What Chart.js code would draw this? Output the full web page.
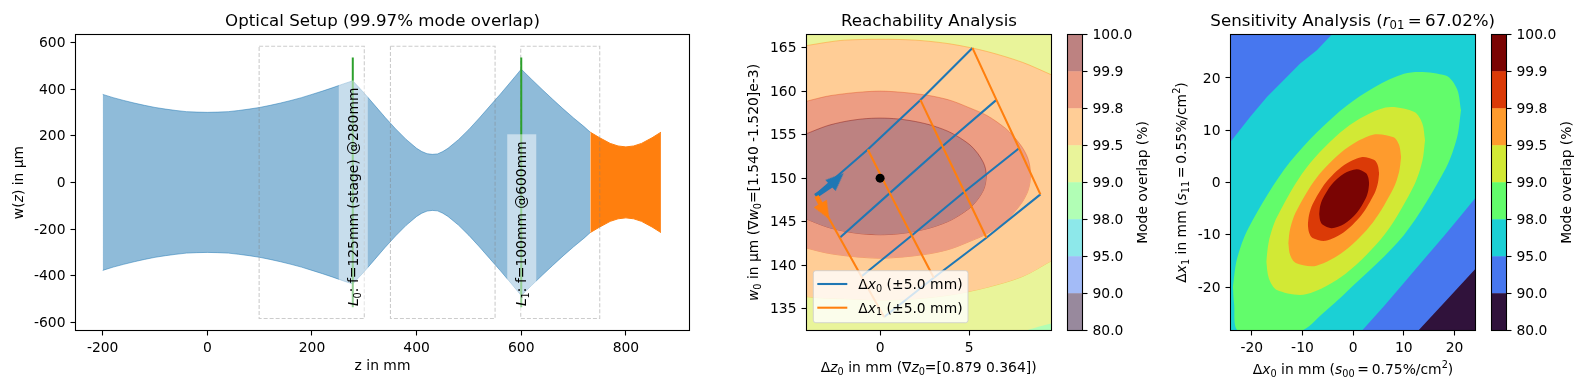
<!DOCTYPE html>
<html><head><meta charset="utf-8">
<style>html,body{margin:0;padding:0;background:#fff;width:1584px;height:390px;overflow:hidden}canvas{position:absolute;top:0}</style>
<script src="https://cdn.jsdelivr.net/npm/chart.js@4/dist/chart.umd.js"></script>
</head><body>
<canvas id="c1" width="700" height="390" style="left:0"></canvas>
<canvas id="c2" width="330" height="390" style="left:730px"></canvas>
<canvas id="c2b" width="100" height="390" style="left:1060px"></canvas>
<canvas id="c3" width="350" height="390" style="left:1150px"></canvas>
<canvas id="c3b" width="100" height="390" style="left:1484px"></canvas>
<script>
// ---------- data: optical setup ----------
const beamZ=[-200,-180,-160,-140,-120,-100,-80,-60,-40,-20,0,20,40,60,80,100,120,140,160,180,200,220,240,260,278,300,320,340,360,380,400,410,420,430,440,450,460,480,500,520,540,560,580,600,620,640,660,680,700,720,732];
const beamW=[377,363,351,340,330,321,314,308,303,301,300,301,303,308,314,321,330,340,351,363,377,391,406,422,435,382,330,278,229,184,146,132,123,120,122,132,146,183,227,276,327,378,431,485,441,398,356,315,276,239,215];
const targetZ=[732,750,770,785,800,815,830,850,867];
const targetW=[215,191,167,156,152,156,167,191,215];
const stageBoxes=[[99,300],[350,550],[599,750]];
const stageHalfHeight=583;
const lensZ=[278,600];
const lensHalfHeight=535;
const lensLabelStartW=-530;
const setupXTicks=[-200,0,200,400,600,800];
const setupYTicks=[-600,-400,-200,0,200,400,600];
const setupXLabels=['-200','0','200','400','600','800'];
const setupYLabels=['-600','-400','-200','0','200','400','600'];
// ---------- data: reachability ----------
const levelColors=['#30123b','#4777ef','#1bd0d5','#62fc6b','#d2e935','#fe9b2d','#db3a07','#7a0403'];
const cbLabels=['80.0','90.0','95.0','98.0','99.0','99.5','99.8','99.9','100.0'];
const r990=[[8.2,132.5],[9.0,133.0],[9.7,133.35]];
const r995Up=[[-4.2,165.2],[-3,165.6],[-2,165.85],[0,165.95],[2,165.85],[4,165.4],[6,164.55],[8,163.3],[9.7,161.8]];
const r995Lo=[[-4.2,136.4],[-3,136.2],[-2,136.15],[0,136],[2,136.15],[4,136.6],[6,137.45],[8,138.7],[9.7,140.6]];
const r998Up=[[-4.2,158.8],[-3,159.4],[-2,159.7],[-1,159.9],[0,160],[1,159.9],[2,159.7],[3,159.4],[4,158.9],[5,158.1],[6,157.2],[7,155.8],[7.5,154.8],[8,153.5],[8.3,152.3],[8.42,151.3],[8.46,150.4]];
const r998Lo=[[-4.2,142],[-3,141.4],[-2,141.1],[-1,140.9],[0,140.8],[1,140.9],[2,141.1],[3,141.4],[4,141.9],[5,142.7],[6,143.6],[7,145],[7.5,146],[8,147.3],[8.3,148.5],[8.42,149.5],[8.46,150.4]];
const r999Up=[[-4.2,155.05],[-3,156],[-2,156.5],[-1,156.8],[0,156.9],[1,156.8],[2,156.5],[3,156],[4,155.2],[5,153.9],[5.5,152.8],[5.8,151.8],[5.92,151.1],[5.97,150.3]];
const r999Lo=[[-4.2,145.35],[-3,144.4],[-2,143.9],[-1,143.6],[0,143.5],[1,143.6],[2,143.9],[3,144.4],[4,145.2],[5,146.5],[5.5,147.6],[5.8,148.6],[5.92,149.4],[5.97,150.3]];
const gridRows=[
 [[-3.614,148.09],[-2.266,143.15],[-1.049,138.71],[0.225,134.05]],
 [[-0.693,153.29],[0.543,148.28],[1.779,143.42],[3.015,138.56]],
 [[2.266,158.99],[3.502,153.67],[4.738,148.43],[5.974,143.15]],
 [[5.187,164.96],[6.536,158.99],[7.809,153.44],[9.007,148.13]]];
const nominal=[[0,150]];
const arrowShaft0=[[-3.63,147.95],[-2.73,149.17]];
const arrowHead0=[[-2.42,149.86]];
const arrowShaft1=[[-3.573,147.93],[-3.348,147.04]];
const arrowHead1=[[-3.107,146.18]];
const reachXTicks=[0,5], reachXLabels=['0','5'];
const reachYTicks=[135,140,145,150,155,160,165], reachYLabels=['135','140','145','150','155','160','165'];
// ---------- data: sensitivity ----------
const s950TL=[[-24.18,7.77],[-20.3,12.55],[-17.02,16.37],[-13.73,19.55],[-10.45,22.74],[-7.16,25.29],[-4.2,28.3]];
const s950BR=[[1.77,-28.3],[5.98,-23.76],[9.92,-19.3],[13.86,-14.84],[17.81,-10.38],[21.09,-6.56],[24.2,-2.87]];
const s900BR=[[12.88,-28.3],[18.46,-22.48],[24.2,-16.43]];
const s990Up=[[-23.72,-19.93],[-22.96,-14.76],[-20.7,-8.78],[-12.47,3.9],[-1.215,14.72],[10.04,20.78],[18.27,20.45],[20.52,17.85],[21.29,13.81]];
const s990Lo=[[-23.72,-19.93],[-23.5,-23.1],[-22.6,-28.4],[-10.45,-28.4],[-6,-25.04],[-1.215,-20.84],[10.04,-10.02],[18.27,2.66],[20.52,8.64],[21.29,13.81]];
const s995Up=[[-17.15,-15.16],[-16.62,-11.17],[-15.05,-6.65],[-9.32,2.7],[-1.48,10.37],[6.36,14.32],[12.09,13.49],[13.66,11.29],[14.19,8.09]];
const s995Lo=[[-17.15,-15.16],[-16.62,-18.36],[-15.05,-20.56],[-9.32,-21.39],[-1.48,-17.44],[6.36,-9.77],[12.09,-0.41],[13.66,4.1],[14.19,8.09]];
const s998Up=[[-12.81,-11.64],[-12.43,-8.86],[-11.32,-5.69],[-7.24,0.88],[-1.67,6.31],[3.9,9.15],[7.98,8.63],[9.09,7.12],[9.47,4.89]];
const s998Lo=[[-12.81,-11.64],[-12.43,-13.87],[-11.32,-15.38],[-7.24,-15.9],[-1.67,-13.05],[3.9,-7.63],[7.98,-1.06],[9.09,2.11],[9.47,4.89]];
const s999Up=[[-8.94,-8.04],[-8.7,-6.22],[-8,-4.18],[-5.42,-0.05],[-1.905,3.25],[1.61,4.83],[4.19,4.28],[4.89,3.22],[5.13,1.72]];
const s999Lo=[[-8.94,-8.04],[-8.7,-9.54],[-8,-10.6],[-5.42,-11.15],[-1.905,-9.57],[1.61,-6.27],[4.19,-2.14],[4.89,-0.1],[5.13,1.72]];
const s100Up=[[-6.71,-6],[-6.54,-4.65],[-6.05,-3.19],[-4.24,-0.36],[-1.775,1.73],[0.69,2.54],[2.5,1.84],[2.99,0.96],[3.16,-0.195]];
const s100Lo=[[-6.71,-6],[-6.54,-7.15],[-6.05,-8.02],[-4.24,-8.73],[-1.775,-7.92],[0.69,-5.83],[2.5,-3],[2.99,-1.54],[3.16,-0.195]];
const sensXTicks=[-20,-10,0,10,20], sensXLabels=['-20','-10','0','10','20'];
const sensYTicks=[-20,-10,0,10,20], sensYLabels=['-20','-10','0','10','20'];
const cbTicks=[0,1,2,3,4,5,6,7,8];
// ---------- texts ----------
const T={o:'Optical Setup (99.97% mode overlap)',r:'Reachability Analysis',z:'z in mm',mo:'Mode overlap (%)'};
const R={
 w:[{t:'w('},{t:'z',i:1},{t:') in µm'}],
 l0:[{t:'L',i:1},{t:'0',sub:1},{t:': f=125mm (stage) @280mm'}],
 l1:[{t:'L',i:1},{t:'1',sub:1},{t:': f=100mm @600mm'}],
 rx:[{t:'Δ'},{t:'z',i:1},{t:'0',sub:1},{t:' in mm (∇'},{t:'z',i:1},{t:'0',sub:1},{t:'=[0.879 0.364])'}],
 ry:[{t:'w',i:1},{t:'0',sub:1},{t:' in µm (∇'},{t:'w',i:1},{t:'0',sub:1},{t:'=[1.540 -1.520]e-3)'}],
 lg0:[{t:'Δ'},{t:'x',i:1},{t:'0',sub:1},{t:' (±5.0 mm)'}],
 lg1:[{t:'Δ'},{t:'x',i:1},{t:'1',sub:1},{t:' (±5.0 mm)'}],
 st:[{t:'Sensitivity Analysis ('},{t:'r',i:1},{t:'01',sub:1},{t:'\u2009=\u200967.02%)'}],
 sx:[{t:'Δ'},{t:'x',i:1},{t:'0',sub:1},{t:' in mm ('},{t:'s',i:1},{t:'00',sub:1},{t:'\u2009=\u20090.75%/cm'},{t:'2',sup:1},{t:')'}],
 sy:[{t:'Δ'},{t:'x',i:1},{t:'1',sub:1},{t:' in mm ('},{t:'s',i:1},{t:'11',sub:1},{t:'\u2009=\u20090.55%/cm'},{t:'2',sup:1},{t:')'}]
};
// ---------- helpers ----------
const FF='"DejaVu Sans"', FS=13.89;
function setFont(ctx,r,size){const s=(r.sub||r.sup)?size*0.7:size;ctx.font=(r.i?'italic ':'')+s+'px '+FF;}
function richW(ctx,runs,size){let w=0;for(const r of runs){setFont(ctx,r,size);w+=ctx.measureText(r.t).width;}return w;}
function rich(ctx,runs,x,y,o){o=o||{};const size=o.size||FS;ctx.save();ctx.translate(x,y);if(o.rot)ctx.rotate(o.rot);
 ctx.fillStyle='#000';ctx.textBaseline='alphabetic';ctx.textAlign='left';
 let w=richW(ctx,runs,size),cx=o.anchor==='s'?0:-w/2,by=o.anchor==='s'?0:size*0.36;
 for(const r of runs){setFont(ctx,r,size);const dy=r.sub?size*0.2:(r.sup?-size*0.42:0);ctx.fillText(r.t,cx,by+dy);cx+=ctx.measureText(r.t).width;}
 ctx.restore();}
function frame(chart){const a=chart.chartArea,c=chart.ctx;c.save();c.strokeStyle='#000';c.lineWidth=1.1;c.strokeRect(a.left,a.top,a.right-a.left,a.bottom-a.top);c.restore();}
const pts=a=>a.map(p=>({x:p[0],y:p[1]}));
const mix=(hex,al)=>{const n=parseInt(hex.slice(1),16),f=v=>Math.round(v*al+255*(1-al));return `rgb(${f(n>>16&255)},${f(n>>8&255)},${f(n&255)})`;};
const line=(data,o)=>Object.assign({type:'line',data,pointRadius:0,borderWidth:0,tension:0,fill:false},o||{});
const band=(up,lo,color,o)=>[line(pts(up),Object.assign({fill:'+1',backgroundColor:color,borderColor:color},o||{})),line(pts(lo),Object.assign({borderColor:color},o||{}))];
const flat=groups=>groups.slice().reverse().flat();
function axis(o){const vert=o.pos==='left'||o.pos==='right';return {type:'linear',min:o.min,max:o.max,position:o.pos,
 afterBuildTicks:s=>{s.ticks=o.ticks.map(v=>({value:v}));},
 afterFit:s=>{if(vert)s.width=o.size;else s.height=o.size;},
 border:{display:false},
 grid:{display:true,drawOnChartArea:false,drawTicks:true,tickLength:5,tickWidth:1.1,tickColor:'#000'},
 ticks:{autoSkip:false,maxRotation:0,minRotation:0,padding:5,labelOffset:vert?1:0,color:'#000',font:{family:'DejaVu Sans',size:FS},callback:(v,i)=>o.labels[i]},
 title:o.title||{display:false}};}
function baseOpts(x,y,pad,titleText){return {responsive:false,animation:false,devicePixelRatio:1,
 layout:{padding:pad},
 elements:{line:{capBezierPoints:false}},
 scales:{x,y},
 plugins:{legend:{display:false},tooltip:{enabled:false},
  title:titleText?{display:true,text:titleText,fullSize:false,color:'#000',font:{family:'DejaVu Sans',size:16.67,weight:'normal'},padding:{top:11.5,bottom:3}}:{display:false}}};}
function colorbar(id,colors,left){
 return new Chart(document.getElementById(id),{type:'bar',
  data:{labels:['overlap'],datasets:colors.map(c=>({data:[1],backgroundColor:c,barPercentage:1,categoryPercentage:1,borderWidth:0}))},
  options:baseOpts({display:false,stacked:true,type:'category'},
   Object.assign(axis({min:0,max:8,pos:'right',ticks:cbTicks,labels:cbLabels,size:100-7.5-15}),{stacked:true}),
   {left:7.5,right:0,top:34.5,bottom:59.5},null),
  plugins:[{id:'cb',afterDraw(ch){frame(ch);rich(ch.ctx,[{t:T.mo}],left,182.5,{rot:-Math.PI/2});}}]});
}
function headImage(color){const w=15,h=18,cv=document.createElement('canvas');cv.width=w;cv.height=h;const c=cv.getContext('2d');
 c.fillStyle=color;c.beginPath();c.moveTo(w/2,0);c.lineTo(w,h);c.lineTo(0,h);c.closePath();c.fill();return cv;}
// ---------- panel 1 ----------
const blue='#1f77b4',orange='#ff7f0e',green='#2ca02c';
const beamUp=beamZ.map((z,i)=>[z,beamW[i]]), beamLo=beamZ.map((z,i)=>[z,-beamW[i]]);
const tUp=targetZ.map((z,i)=>[z,targetW[i]]), tLo=targetZ.map((z,i)=>[z,-targetW[i]]);
const setupGroups=[];
setupGroups.push(band(beamUp,beamLo,'rgba(31,119,180,0.5)',{borderWidth:1,borderColor:'rgba(31,119,180,0.5)'}));
setupGroups.push(band(tUp,tLo,orange,{borderWidth:1,borderColor:orange}));
stageBoxes.forEach(b=>setupGroups.push([line(pts([[b[0],stageHalfHeight],[b[1],stageHalfHeight],[b[1],-stageHalfHeight],[b[0],-stageHalfHeight],[b[0],stageHalfHeight]]),{borderWidth:1.1,borderColor:'rgba(128,128,128,0.4)',borderDash:[4,2]})]));
lensZ.forEach(z=>setupGroups.push([line(pts([[z,lensHalfHeight],[z,-lensHalfHeight]]),{borderWidth:2,borderColor:green})]));
new Chart(document.getElementById('c1'),{type:'line',data:{datasets:flat(setupGroups)},
 options:baseOpts(
  axis({min:-252,max:921.6,pos:'bottom',ticks:setupXTicks,labels:setupXLabels,size:59.5,title:{display:true,text:T.z,color:'#000',font:{family:'DejaVu Sans',size:FS},padding:{top:0,bottom:15.7}}}),
  axis({min:-634.5,max:633.5,pos:'left',ticks:setupYTicks,labels:setupYLabels,size:75.5}),
  {left:0,right:10.5,top:0,bottom:0},T.o),
 plugins:[{id:'p1',afterDatasetsDraw(ch){const c=ch.ctx,x=ch.scales.x,y=ch.scales.y;
   [R.l0,R.l1].forEach((runs,i)=>{const px=x.getPixelForValue(lensZ[i]),py=y.getPixelForValue(lensLabelStartW);
    const w=richW(c,runs,FS);c.save();c.fillStyle='rgba(255,255,255,0.5)';c.fillRect(px-14,py-w-7,29,w+14);c.restore();
    rich(c,runs,px+5,py,{rot:-Math.PI/2,anchor:'s'});});
  },afterDraw(ch){frame(ch);rich(ch.ctx,R.w,18,182.5,{rot:-Math.PI/2});}}]});
// ---------- panel 2 ----------
const rc=levelColors.map(c=>mix(c,0.5));
const edge=c=>({borderWidth:0.7,borderColor:c,tension:0.3});
const reachGroups=[];
reachGroups.push([line(pts([[-4.2,166.6],[9.7,166.6]]),{fill:'start',backgroundColor:rc[4]})]);
reachGroups.push([line(pts(r990),{fill:'start',backgroundColor:rc[3]})]);
reachGroups.push(band(r995Up,r995Lo,rc[5],edge('rgba(254,155,45,0.7)')));
reachGroups.push(band(r998Up,r998Lo,rc[6],edge('rgba(219,58,7,0.45)')));
reachGroups.push(band(r999Up,r999Lo,rc[7],edge('rgba(122,4,3,0.55)')));
for(let j=0;j<4;j++) reachGroups.push([line(pts(gridRows.map(r=>r[j])),{borderWidth:2.08,borderColor:blue})]);
gridRows.forEach(r=>reachGroups.push([line(pts(r),{borderWidth:2.08,borderColor:orange})]));
reachGroups.push([line(pts(arrowShaft0),{borderWidth:4.7,borderColor:blue})]);
reachGroups.push([line(pts(arrowHead0),{showLine:false,pointRadius:8,pointStyle:headImage(blue),pointRotation:47})]);
reachGroups.push([line(pts(arrowShaft1),{borderWidth:4.7,borderColor:orange})]);
reachGroups.push([line(pts(arrowHead1),{showLine:false,pointRadius:8,pointStyle:headImage(orange),pointRotation:150})]);
reachGroups.push([line(pts(nominal),{showLine:false,pointRadius:4.5,pointBackgroundColor:'#000',pointBorderColor:'#000',pointBorderWidth:0})]);
new Chart(document.getElementById('c2'),{type:'line',data:{datasets:flat(reachGroups)},
 options:baseOpts(
  axis({min:-4.135,max:9.63,pos:'bottom',ticks:reachXTicks,labels:reachXLabels,size:59.5}),
  axis({min:132.5,max:166.5,pos:'left',ticks:reachYTicks,labels:reachYLabels,size:76.5}),
  {left:0,right:8.5,top:0,bottom:0},T.r),
 plugins:[{id:'p2',afterDatasetsDraw(ch){const c=ch.ctx,L=83.3,Y=270.7,W=154.7,H=52;
   c.save();c.beginPath();c.roundRect(L,Y,W,H,2.5);c.fillStyle='rgba(255,255,255,0.8)';c.fill();c.strokeStyle='rgba(204,204,204,0.8)';c.lineWidth=1;c.stroke();
   c.lineWidth=2.08;c.strokeStyle=blue;c.beginPath();c.moveTo(87.3,284);c.lineTo(117.3,284);c.stroke();
   c.strokeStyle=orange;c.beginPath();c.moveTo(87.3,307.7);c.lineTo(117.3,307.7);c.stroke();c.restore();
   rich(c,R.lg0,128.3,289,{anchor:'s'});rich(c,R.lg1,128.3,312.7,{anchor:'s'});
  },afterDraw(ch){frame(ch);const c=ch.ctx;rich(c,R.rx,198.7,367);rich(c,R.ry,23,182.5,{rot:-Math.PI/2});}}]});
colorbar('c2b',rc,82);
// ---------- panel 3 ----------
const tc=levelColors, sm={tension:0.3};
const sensGroups=[];
sensGroups.push([line(pts([[-24.3,28.4],[24.3,28.4]]),{fill:'start',backgroundColor:tc[2]})]);
sensGroups.push([line(pts(s950TL),{fill:'end',backgroundColor:tc[1]})]);
sensGroups.push([line(pts(s950BR),{fill:'start',backgroundColor:tc[1]})]);
sensGroups.push([line(pts(s900BR),{fill:'start',backgroundColor:tc[0]})]);
sensGroups.push(band(s990Up,s990Lo,tc[3],sm));
sensGroups.push(band(s995Up,s995Lo,tc[4],sm));
sensGroups.push(band(s998Up,s998Lo,tc[5],sm));
sensGroups.push(band(s999Up,s999Lo,tc[6],sm));
sensGroups.push(band(s100Up,s100Lo,tc[7],sm));
new Chart(document.getElementById('c3'),{type:'line',data:{datasets:flat(sensGroups)},
 options:baseOpts(
  axis({min:-24.2,max:24.15,pos:'bottom',ticks:sensXTicks,labels:sensXLabels,size:59.5}),
  axis({min:-28.3,max:28.3,pos:'left',ticks:sensYTicks,labels:sensYLabels,size:80.5}),
  {left:0,right:24.5,top:34.5,bottom:0},null),
 plugins:[{id:'p3',afterDraw(ch){frame(ch);const c=ch.ctx;rich(c,R.st,202.7,20,{size:16.67});rich(c,R.sx,203,369);rich(c,R.sy,31,182.5,{rot:-Math.PI/2});}}]});
colorbar('c3b',tc,82);
</script>
</body></html>
